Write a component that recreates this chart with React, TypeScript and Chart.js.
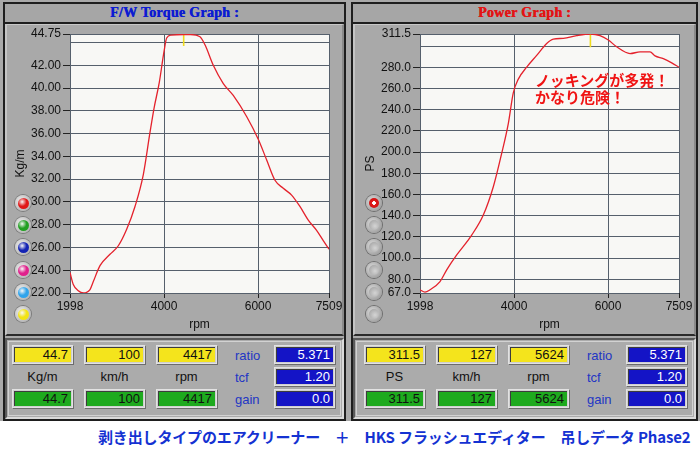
import React, { useEffect, useRef } from 'react';
import { Chart, registerables } from 'chart.js';
Chart.register(...registerables);

// ---------- data ----------
const xTicks = [1998, 4000, 6000, 7509];

const torqueRpm = [1998, 2068, 2175, 2281, 2424, 2494, 2636, 2849, 3026, 3204, 3381, 3558, 3700, 3785, 3898, 3998, 4055, 4150, 4417, 4563, 4764, 4870, 5047, 5260, 5472, 5756, 6004, 6181, 6359, 6536, 6713, 6890, 7068, 7245, 7387, 7509];
const torqueVals = [23.8, 22.75, 22.2, 22.0, 22.3, 23.0, 24.4, 25.4, 26.15, 27.6, 29.6, 32.4, 36.1, 38.2, 40.5, 43.2, 44.4, 44.65, 44.7, 44.7, 44.5, 43.8, 42.0, 40.4, 39.35, 37.5, 35.5, 33.7, 31.9, 31.2, 30.6, 29.6, 28.4, 27.5, 26.6, 25.85];
const torqueTicks = [22, 24, 26, 28, 30, 32, 34, 36, 38, 40, 42, 44, 44.75];

const powerRpm = [1998, 2104, 2211, 2424, 2566, 2779, 3098, 3345, 3558, 3736, 3877, 3983, 4090, 4268, 4481, 4694, 4835, 5047, 5332, 5624, 5828, 6005, 6183, 6467, 6680, 6892, 6999, 7175, 7354, 7509];
const powerVals = [70, 67.8, 70, 77.8, 88.8, 102.9, 121.7, 140.6, 167.3, 198.8, 227, 256, 268.9, 280.2, 291.3, 302.6, 306.7, 307.4, 310, 311.5, 310, 305.8, 299.4, 293, 294.6, 294.6, 290.8, 288.2, 284.3, 280.2];
const powerTicks = [67, 80, 100, 120, 140, 160, 180, 200, 220, 240, 260, 280, 300, 311.5];

const torquePeakRpm = 4417;
const torquePeakMarker = [44.75, 43.7];
const powerPeakRpm = 5624;
const powerPeakMarker = [311.5, 299];

const torqueBoxes = ['44.7', '100', '4417'];
const powerBoxes = ['311.5', '127', '5624'];
const torqueUnits = ['Kg/m', 'km/h', 'rpm'];
const powerUnits = ['PS', 'km/h', 'rpm'];
const paramNames = ['ratio', 'tcf', 'gain'];
const paramVals = ['5.371', '1.20', '0.0'];

const leftButtonColors = ['#e01818', '#22a022', '#1424b4', '#e0208c', '#30a4ec', '#f2e414'];

const FONT = '"Liberation Sans", Arial, sans-serif';
const JP = '"Noto Sans CJK JP", "Noto Sans", sans-serif';

type GraphProps = {
  rpm: number[];
  vals: number[];
  yTicks: number[];
  hidden: number;
  decimals: number;
  yTitle: string;
  peakRpm: number;
  peakMarker: number[];
  left: number;
};

function Graph(p: GraphProps) {
  const ref = useRef<HTMLCanvasElement>(null);
  useEffect(() => {
    const bg = {
      id: 'bg',
      beforeDraw(c: any) {
        const { ctx, chartArea: a } = c;
        ctx.save();
        ctx.fillStyle = '#f8f8f5';
        ctx.fillRect(a.left, a.top, a.width, a.height);
        ctx.restore();
      },
    };
    const yMin = p.yTicks[0];
    const yMax = p.yTicks[p.yTicks.length - 1];
    const chart = new Chart(ref.current!, {
      type: 'line',
      data: {
        datasets: [
          {
            data: p.rpm.map((x, i) => ({ x, y: p.vals[i] })),
            borderColor: '#e4222c',
            borderWidth: 1.3,
            pointRadius: 0,
            cubicInterpolationMode: 'monotone',
          },
          {
            data: p.peakMarker.map((y) => ({ x: p.peakRpm, y })),
            borderColor: '#f0dc1c',
            borderWidth: 1.6,
            pointRadius: 0,
          },
        ],
      },
      options: {
        animation: false,
        responsive: false,
        events: [],
        layout: { padding: { top: 10, right: 17, left: 0, bottom: 0 } },
        plugins: { legend: { display: false }, tooltip: { enabled: false } },
        scales: {
          x: {
            type: 'linear',
            min: xTicks[0],
            max: xTicks[xTicks.length - 1],
            afterBuildTicks: (s: any) => {
              s.ticks = xTicks.map((v) => ({ value: v }));
            },
            afterFit: (s: any) => {
              s.height = 41;
            },
            ticks: {
              autoSkip: false,
              maxRotation: 0,
              color: '#111',
              padding: 1,
              font: { family: FONT, size: 12 },
              callback: (v: any) => String(v),
            },
            grid: { color: '#56606c', lineWidth: 1, tickColor: '#222', tickLength: 5 },
            border: { display: false },
            title: {
              display: true,
              text: 'rpm',
              color: '#111',
              font: { family: FONT, size: 12 },
              padding: { top: 0, bottom: 2 },
            },
          },
          y: {
            type: 'linear',
            min: yMin,
            max: yMax,
            afterBuildTicks: (s: any) => {
              s.ticks = p.yTicks.map((v) => ({ value: v }));
            },
            afterFit: (s: any) => {
              s.width = 64;
            },
            ticks: {
              autoSkip: false,
              color: '#111',
              padding: 2,
              font: { family: FONT, size: 12 },
              callback: (v: any) => (v === p.hidden ? '' : Number(v).toFixed(p.decimals)),
            },
            grid: {
              color: '#56606c',
              lineWidth: 1,
              tickLength: 7,
              tickColor: (ctx: any) => (ctx.tick && ctx.tick.value === p.hidden ? 'rgba(0,0,0,0)' : '#222'),
            },
            border: { display: false },
            title: {
              display: true,
              text: p.yTitle,
              color: '#111',
              font: { family: FONT, size: 12 },
              padding: { top: 7, bottom: 0 },
            },
          },
        },
      } as any,
      plugins: [bg],
    });
    return () => chart.destroy();
  }, []);
  return (
    <canvas
      ref={ref}
      width={340}
      height={310}
      style={{ position: 'absolute', left: p.left, top: 24, width: 340, height: 310 }}
    />
  );
}

function ColorButton({ x, y, color }: { x: number; y: number; color: string }) {
  return (
    <div
      style={{
        position: 'absolute',
        left: x - 8,
        top: y - 8,
        width: 16,
        height: 16,
        borderRadius: '50%',
        background: 'radial-gradient(circle at 40% 40%, #f2f2f2, #a0a0a0)',
        boxShadow: '0 0 0 1px #7c7c7c',
      }}
    >
      <div
        style={{
          position: 'absolute',
          left: 2.5,
          top: 2.5,
          width: 11,
          height: 11,
          borderRadius: '50%',
          background: `radial-gradient(circle at 38% 35%, #ffffffaa 0%, ${color} 45%, ${color} 100%)`,
        }}
      />
    </div>
  );
}

function GrayButton({ x, y, active }: { x: number; y: number; active?: boolean }) {
  return (
    <div
      style={{
        position: 'absolute',
        left: x - 8,
        top: y - 8,
        width: 16,
        height: 16,
        borderRadius: '50%',
        background: 'radial-gradient(circle at 40% 40%, #e0e0e0, #8a8a8a)',
        boxShadow: '0 0 0 1px #6e6e6e',
      }}
    >
      <div
        style={{
          position: 'absolute',
          left: 3,
          top: 3,
          width: 10,
          height: 10,
          borderRadius: '50%',
          background: active
            ? 'radial-gradient(circle, #ffffff 0%, #ffffff 22%, #e01818 30%, #c81010 100%)'
            : 'radial-gradient(circle at 60% 60%, #d4d4d4, #9c9c9c)',
        }}
      />
    </div>
  );
}

function ValueBox({ x, y, w, bg, color, text }: { x: number; y: number; w: number; bg: string; color: string; text: string }) {
  return (
    <div
      style={{
        position: 'absolute',
        left: x,
        top: y,
        width: w,
        height: 19,
        boxSizing: 'border-box',
        border: '1px solid #e2e2e2',
        boxShadow: '1px 1px 0 #6c6c6c',
        background: '#cfcfcf',
      }}
    >
      <div
        style={{
          position: 'absolute',
          left: 1,
          top: 1,
          right: 1,
          bottom: 1,
          background: bg,
          boxShadow: 'inset 1px 1px 0 #3c3c3c',
          color,
          font: `13px ${FONT}`,
          lineHeight: '16px',
          textAlign: 'right',
          paddingRight: 3,
        }}
      >
        {text}
      </div>
    </div>
  );
}

function Panel({
  left,
  width,
  title,
  titleColor,
  boxes,
  units,
  boxDx,
  children,
}: {
  left: number;
  width: number;
  title: string;
  titleColor: string;
  boxes: string[];
  units: string[];
  boxDx: number;
  children?: React.ReactNode;
}) {
  const boxX = [12, 84, 156];
  return (
    <div style={{ position: 'absolute', left, top: 0, width, height: 421, background: '#a9a9a9' }}>
      <div
        style={{
          position: 'absolute',
          left: 3,
          top: 2,
          width: width - 5,
          height: 419,
          boxSizing: 'border-box',
          border: '2px solid #1e1e1e',
        }}
      />
      <div
        style={{
          position: 'absolute',
          left: 5,
          top: 4,
          width: width - 9,
          height: 18,
          borderBottom: '2px solid #1e1e1e',
          background: '#a6a6a6',
          textAlign: 'center',
          font: `bold 14px "Liberation Serif", "DejaVu Serif", serif`,
          lineHeight: '18px',
          color: titleColor,
          textShadow: `0.5px 0 0 ${titleColor}`,
          letterSpacing: 0.3,
        }}
      >
        {title}
      </div>
      <div
        style={{
          position: 'absolute',
          left: 5,
          top: 24,
          width: width - 9,
          height: 312,
          boxSizing: 'border-box',
          borderTop: '1px solid #c8c8c8',
          borderLeft: '2px solid #c4c4c4',
          borderBottom: '2px solid #2a2a2a',
          borderRight: '2px solid #8a8a8a',
        }}
      />
      <div
        style={{
          position: 'absolute',
          left: 5,
          top: 338,
          width: width - 9,
          height: 81,
          boxSizing: 'border-box',
          border: '2px solid',
          borderColor: '#5a5a5a #dadada #dadada #5a5a5a',
          background: '#ababab',
        }}
      >
        <div
          style={{
            position: 'absolute',
            left: 1,
            top: 1,
            right: 1,
            bottom: 1,
            border: '1px solid #d2d2d2',
          }}
        />
      </div>
      {boxes.map((t, i) => (
        <ValueBox key={'y' + i} x={boxX[i] + boxDx} y={345} w={61} bg="#f4e41c" color="#111" text={t} />
      ))}
      {units.map((t, i) => (
        <div
          key={'u' + i}
          style={{
            position: 'absolute',
            left: boxX[i] + boxDx,
            top: 369,
            width: 61,
            textAlign: 'center',
            font: `13px ${FONT}`,
            lineHeight: '16px',
            color: '#111',
          }}
        >
          {t}
        </div>
      ))}
      {boxes.map((t, i) => (
        <ValueBox key={'g' + i} x={boxX[i] + boxDx} y={389} w={61} bg="#1eaa1e" color="#111" text={t} />
      ))}
      {paramNames.map((t, i) => (
        <div
          key={'p' + i}
          style={{
            position: 'absolute',
            left: 235 + boxDx,
            top: [348, 370, 392][i],
            font: `13px ${FONT}`,
            lineHeight: '16px',
            color: '#2236c4',
          }}
        >
          {t}
        </div>
      ))}
      {paramVals.map((t, i) => (
        <ValueBox key={'b' + i} x={274 + boxDx} y={[345, 367, 389][i]} w={61} bg="#1414c6" color="#fff" text={t} />
      ))}
      {children}
    </div>
  );
}

export default function App() {
  const btnY = [203, 225, 247, 270, 292, 314];
  return (
    <div
      style={{
        position: 'fixed',
        left: 0,
        top: 0,
        width: 700,
        height: 450,
        background: '#ffffff',
        overflow: 'hidden',
      }}
    >
      <Panel
        left={0}
        width={348}
        title="F/W Torque Graph :"
        titleColor="#0c1cd2"
        boxes={torqueBoxes}
        units={torqueUnits}
        boxDx={0}
      />
      <Panel
        left={348}
        width={352}
        title="Power Graph :"
        titleColor="#e21414"
        boxes={powerBoxes}
        units={powerUnits}
        boxDx={4}
      />
      <Graph
        rpm={torqueRpm}
        vals={torqueVals}
        yTicks={torqueTicks}
        hidden={44}
        decimals={2}
        yTitle="Kg/m"
        peakRpm={torquePeakRpm}
        peakMarker={torquePeakMarker}
        left={6}
      />
      <Graph
        rpm={powerRpm}
        vals={powerVals}
        yTicks={powerTicks}
        hidden={300}
        decimals={1}
        yTitle="PS"
        peakRpm={powerPeakRpm}
        peakMarker={powerPeakMarker}
        left={356}
      />
      {leftButtonColors.map((c, i) => (
        <ColorButton key={'lb' + i} x={23} y={btnY[i]} color={c} />
      ))}
      {btnY.map((y, i) => (
        <GrayButton key={'rb' + i} x={374} y={y} active={i === 0} />
      ))}
      <div
        style={{
          position: 'absolute',
          left: 535,
          top: 71,
          font: `bold 15px ${JP}`,
          lineHeight: '17px',
          color: '#f01414',
          whiteSpace: 'nowrap',
        }}
      >
        ノッキングが多発！
        <br />
        かなり危険！
      </div>
      <div
        style={{
          position: 'absolute',
          left: 98,
          top: 427,
          font: `bold 15px ${JP}`,
          lineHeight: '20px',
          color: '#1432d2',
          whiteSpace: 'nowrap',
          letterSpacing: -0.15,
        }}
      >
        剥き出しタイプのエアクリーナー　＋　HKS フラッシュエディター　吊しデータ Phase2
      </div>
    </div>
  );
}
